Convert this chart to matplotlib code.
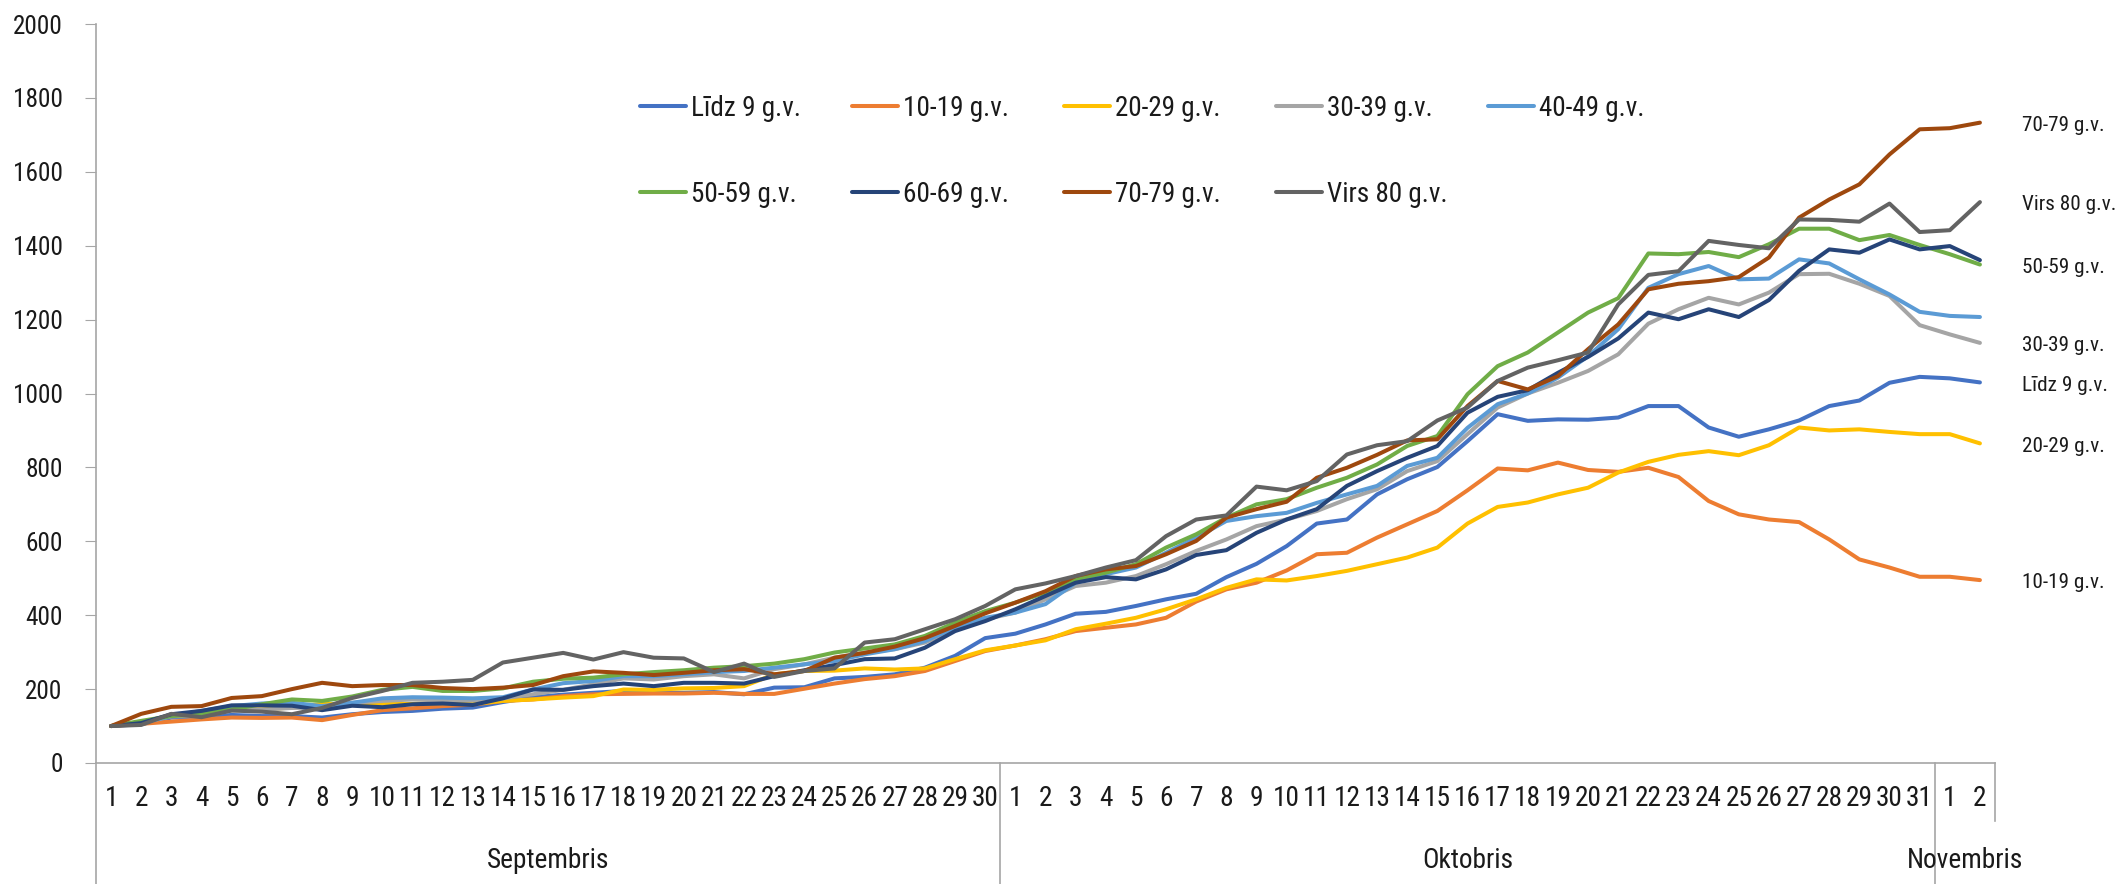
import os
import matplotlib
matplotlib.use('Agg')
import matplotlib.pyplot as plt
import matplotlib.transforms as mtransforms
from matplotlib import font_manager as fm

# day labels
sept_days = [str(d) for d in range(1, 31)]
okt_days = [str(d) for d in range(1, 32)]
nov_days = ['1', '2']
months = ['Septembris', 'Oktobris', 'Novembris']

lidz9 = [100, 105, 123, 124, 130, 127, 127, 123, 132, 138, 141, 147, 150, 165, 178, 185, 190, 195, 190, 190,
         192, 186, 204, 205, 229, 233, 240, 258, 290, 338,
         350, 375, 404, 409, 425, 443, 458, 503, 539, 587, 648, 659, 727, 768, 801, 871, 944, 926, 930, 929,
         935, 966, 966, 908, 883, 903, 927, 966, 981, 1029, 1045,
         1041, 1030]
g10_19 = [100, 106, 112, 118, 123, 122, 123, 116, 130, 143, 148, 154, 158, 168, 172, 181, 186, 187, 188, 188,
          190, 187, 187, 201, 215, 227, 235, 249, 276, 303,
          318, 335, 357, 366, 375, 393, 437, 470, 488, 521, 565, 569, 610, 646, 682, 738, 797, 792, 813, 793,
          788, 799, 774, 709, 673, 659, 652, 605, 551, 529, 504,
          504, 495]
g20_29 = [100, 110, 130, 135, 145, 145, 150, 160, 158, 160, 160, 162, 160, 168, 172, 177, 181, 199, 198, 202,
          203, 208, 240, 249, 250, 256, 253, 256, 281, 305,
          318, 332, 362, 377, 393, 416, 443, 474, 497, 494, 506, 520, 538, 556, 583, 648, 693, 705, 727, 745,
          786, 815, 834, 844, 833, 860, 908, 900, 903, 896, 890,
          890, 865]
g30_39 = [100, 109, 126, 127, 142, 144, 149, 150, 163, 168, 172, 169, 169, 175, 186, 198, 213, 229, 226, 235,
          240, 229, 254, 267, 285, 299, 308, 326, 362, 389,
          407, 443, 479, 488, 506, 538, 574, 605, 641, 659, 682, 714, 741, 790, 817, 890, 962, 1000, 1029, 1061,
          1106, 1189, 1228, 1259, 1241, 1273, 1323, 1324, 1297, 1264, 1185,
          1160, 1137]
g40_49 = [100, 109, 127, 141, 154, 161, 163, 154, 163, 175, 178, 177, 175, 178, 199, 216, 222, 235, 235, 240,
          246, 249, 258, 267, 276, 294, 308, 330, 366, 393,
          407, 430, 488, 511, 529, 569, 610, 655, 668, 677, 704, 727, 750, 804, 826, 907, 971, 1000, 1043, 1101,
          1174, 1286, 1323, 1345, 1309, 1311, 1363, 1352, 1309, 1268, 1221,
          1210, 1207]
g50_59 = [100, 114, 127, 132, 145, 159, 172, 168, 180, 198, 206, 195, 195, 202, 220, 228, 231, 240, 246, 251,
          258, 262, 269, 281, 299, 310, 321, 344, 380, 411,
          434, 461, 497, 515, 538, 583, 619, 664, 700, 714, 745, 772, 808, 858, 885, 998, 1074, 1111, 1165, 1219,
          1258, 1379, 1377, 1383, 1369, 1404, 1446, 1446, 1415, 1429, 1402,
          1377, 1349]
g60_69 = [100, 108, 132, 141, 156, 156, 155, 143, 155, 151, 159, 161, 157, 175, 199, 198, 208, 215, 208, 217,
          217, 215, 235, 251, 265, 281, 283, 312, 357, 384,
          416, 452, 488, 503, 497, 524, 563, 576, 623, 659, 687, 750, 790, 826, 858, 948, 991, 1009, 1056, 1099,
          1149, 1219, 1201, 1228, 1207, 1253, 1332, 1390, 1381, 1417, 1390,
          1399, 1361]
g70_79 = [100, 133, 152, 154, 176, 181, 200, 217, 208, 211, 211, 203, 200, 204, 211, 235, 248, 244, 238, 244,
          251, 254, 240, 249, 285, 298, 315, 338, 371, 405,
          434, 465, 506, 524, 533, 565, 601, 664, 687, 707, 772, 799, 834, 873, 876, 966, 1034, 1011, 1047, 1120,
          1187, 1282, 1297, 1304, 1315, 1368, 1476, 1525, 1566, 1647, 1715,
          1718, 1733]
virs80 = [100, 103, 133, 124, 142, 139, 132, 149, 176, 195, 217, 220, 225, 272, 285, 298, 280, 300, 285, 283,
          246, 269, 233, 249, 256, 326, 335, 362, 389, 425,
          470, 486, 506, 529, 549, 614, 659, 670, 748, 738, 763, 835, 860, 871, 927, 962, 1034, 1070, 1090, 1111,
          1241, 1321, 1331, 1413, 1402, 1393, 1471, 1470, 1465, 1514, 1437,
          1442, 1518]

labels = ['Līdz 9 g.v.', '10-19 g.v.', '20-29 g.v.', '30-39 g.v.', '40-49 g.v.',
          '50-59 g.v.', '60-69 g.v.', '70-79 g.v.', 'Virs 80 g.v.']
series = [lidz9, g10_19, g20_29, g30_39, g40_49, g50_59, g60_69, g70_79, virs80]
colors = ['#4472C4', '#ED7D31', '#FFC000', '#A5A5A5', '#5B9BD5',
          '#70AD47', '#264478', '#9E480E', '#636363']
# which series get a label at the right end
end_labels = ['70-79 g.v.', 'Virs 80 g.v.', '50-59 g.v.', '30-39 g.v.', 'Līdz 9 g.v.', '20-29 g.v.', '10-19 g.v.']


def pick_font():
    # the original uses a very narrow face, take the narrowest one we have
    prefs = ['notosans-extracondensed', 'notosans-condensed', 'robotocondensed-regular',
             'liberationsansnarrow-regular', 'opensans-condensedlight', 'notosans-semicondensed',
             'dejavusanscondensed']
    files = {}
    for f in fm.fontManager.ttflist:
        key = os.path.splitext(os.path.basename(f.fname))[0].lower()
        files.setdefault(key, f.fname)
    for p in prefs:
        if p in files:
            return fm.FontProperties(fname=files[p])
    return fm.FontProperties(family='DejaVu Sans')


TXT = '#1a1a1a'
day_labels = sept_days + okt_days + nov_days
x = list(range(len(day_labels)))

W, H = 2117, 884
fig = plt.figure(figsize=(W / 100, H / 100), dpi=100)
ax = fig.add_axes([96 / W, 1 - 763 / H, (1995 - 96) / W, (763 - 24) / H])
rend = fig.canvas.get_renderer()
base = pick_font()


def fprop(size):
    p = base.copy()
    p.set_size(size)
    return p


def text_w(s, size):
    return rend.get_text_width_height_descent(s, fprop(size), ismath=False)[0]


# sizes so texts take the room they have in the original
lab_size = min(24, 20 * 94 / text_w('Virs 80 g.v.', 20))
leg_size = min(24, 20 * 110 / text_w('Līdz 9 g.v.', 20))
day_size = min(22, 19 * 27 / text_w('28', 19))
mon_size = day_size
y_size = min(22, 20 * 50 / text_w('2000', 20))

lines = []
for vals, lab, col in zip(series, labels, colors):
    ln, = ax.plot(x, vals, color=col, lw=2.9, label=lab,
                  solid_capstyle='round', solid_joinstyle='round')
    lines.append(ln)

ax.set_xlim(-0.5, len(x) - 0.5)
ax.set_ylim(0, 2000)
ax.set_yticks(range(0, 2001, 200))
ax.set_xticks([])
for s in ['top', 'right']:
    ax.spines[s].set_visible(False)
for s in ['left', 'bottom']:
    ax.spines[s].set_color('#A6A6A6')
    ax.spines[s].set_linewidth(1.2)
ax.tick_params(axis='y', length=8, color='#A6A6A6', pad=16, labelcolor=TXT)
for t in ax.get_yticklabels():
    t.set_fontproperties(fprop(y_size))

# category labels: days and months
axh = 763 - 24
trans = mtransforms.blended_transform_factory(ax.transData, ax.transAxes)
for i, d in enumerate(day_labels):
    ax.text(i, -36 / axh, d, transform=trans, ha='center', va='center', fontproperties=fprop(day_size), color=TXT)

bounds = [-0.5, len(sept_days) - 0.5, len(sept_days) + len(okt_days) - 0.5, len(x) - 0.5]
for b in bounds[:-1]:
    ax.plot([b, b], [0, -121 / axh], transform=trans, clip_on=False, color='#A6A6A6', lw=1.2)
ax.plot([bounds[-1], bounds[-1]], [0, -58 / axh], transform=trans, clip_on=False, color='#A6A6A6', lw=1.2)
for m, a, b in zip(months, bounds[:-1], bounds[1:]):
    ax.text((a + b) / 2, -98 / axh, m, transform=trans, ha='center', va='center',
            fontproperties=fprop(mon_size), color=TXT)

# labels at the end of lines
for vals, lab in zip(series, labels):
    if lab in end_labels:
        ax.annotate(lab, xy=(x[-1], vals[-1]), xytext=(30, -2), textcoords='offset points',
                    va='center', ha='left', fontproperties=fprop(lab_size), color=TXT, annotation_clip=False)

# legend: 5 fixed-width columns, 2 rows
fs_px = leg_size * 100 / 72
row_h = rend.get_text_width_height_descent('Līdz 9 g.v.', fprop(leg_size), ismath=False)[1]
spacing = max(0.2, (86 - row_h) / fs_px)
for c in range(5):
    idx = [i for i in (c, c + 5) if i < len(lines)]
    leg = fig.legend([lines[i] for i in idx], [labels[i] for i in idx], loc='upper left',
                     bbox_to_anchor=((640 + 212 * c) / W, 1 - (108 - row_h / 2) / H), frameon=False,
                     prop=fprop(leg_size), handlelength=46 / fs_px, handletextpad=5 / fs_px,
                     labelspacing=spacing, borderpad=0, borderaxespad=0)
    for t in leg.get_texts():
        t.set_color(TXT)

fig.savefig('out.png', dpi=100)
